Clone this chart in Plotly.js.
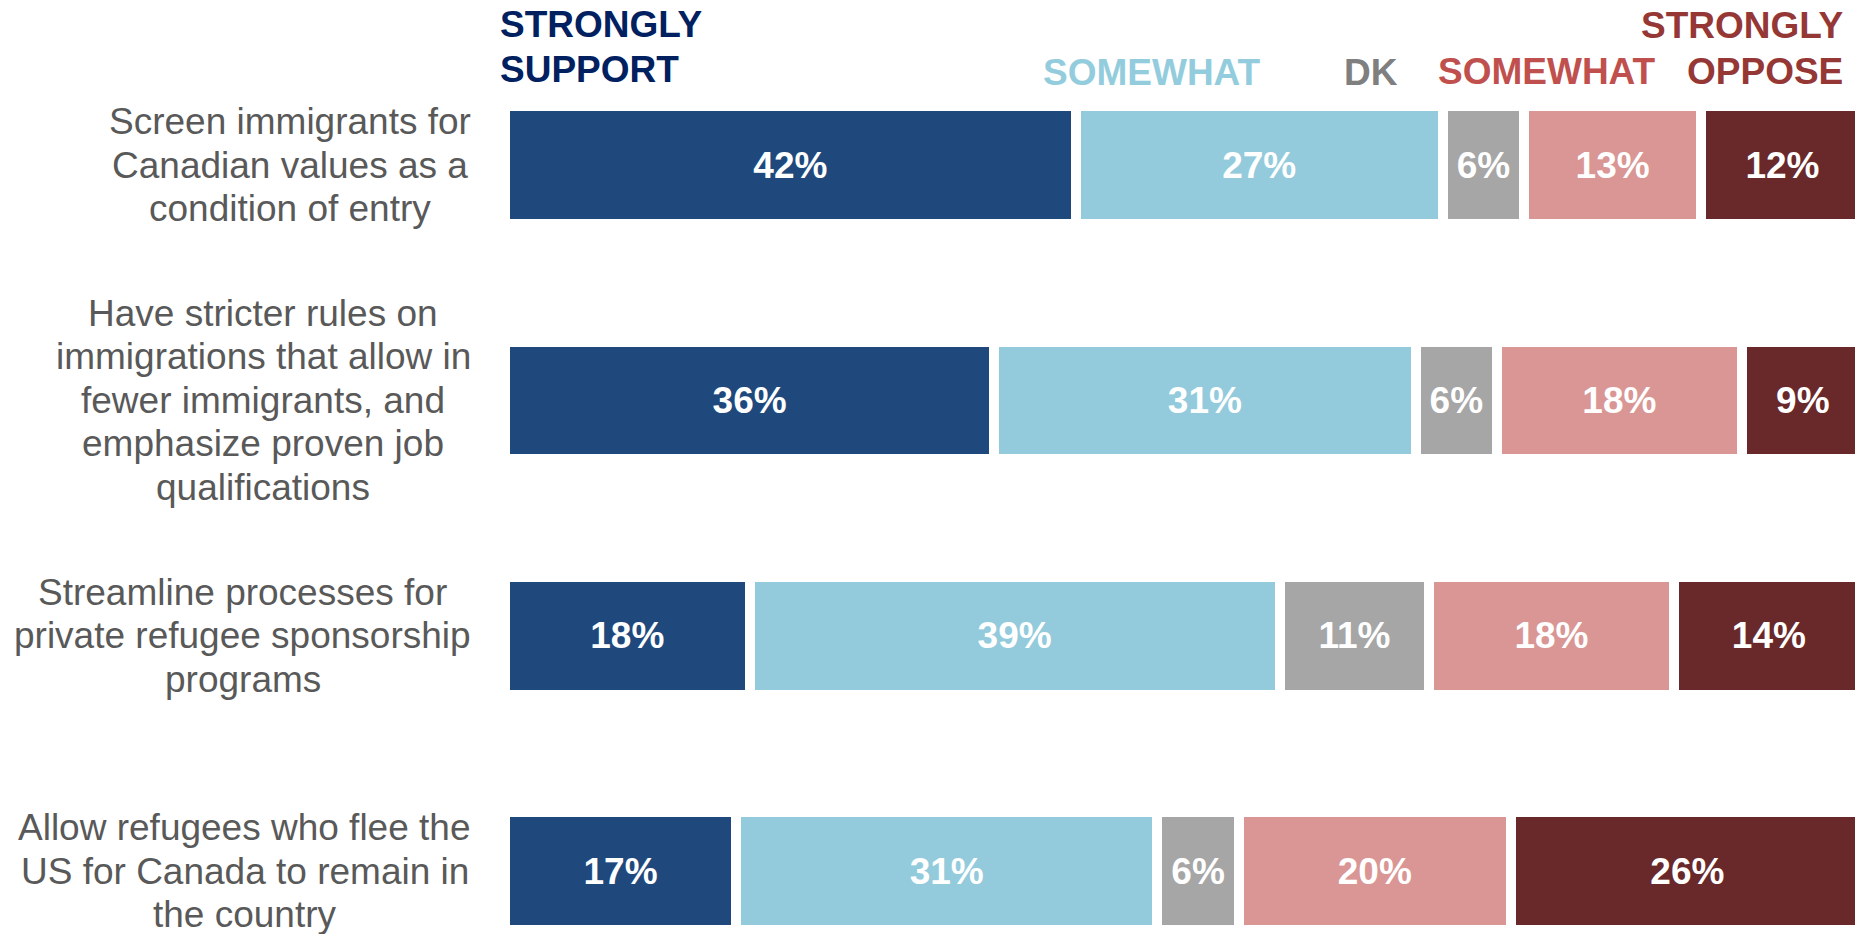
<!DOCTYPE html>
<html>
<head>
<meta charset="utf-8">
<script src="https://cdn.plot.ly/plotly-3.0.1.min.js"></script>
<style>
  html, body { margin: 0; padding: 0; background: #ffffff; }
  #chart { width: 1855px; height: 934px; }
</style>
</head>
<body>
<div id="chart"></div>
<script>
// ---------- DATA ----------
const categories = [
  "Screen immigrants for<br>Canadian values as a<br>condition of entry",
  "Have stricter rules on<br>immigrations that allow in<br>fewer immigrants, and<br>emphasize proven job<br>qualifications",
  "Streamline processes for<br>private refugee sponsorship<br>programs",
  "Allow refugees who flee the<br>US for Canada to remain in<br>the country"
];
const stronglySupport = [42, 36, 18, 17];
const somewhatSupport = [27, 31, 39, 31];
const dontKnow        = [6, 6, 11, 6];
const somewhatOppose  = [13, 18, 18, 20];
const stronglyOppose  = [12, 9, 14, 26];
const seriesNames = ["Strongly support", "Somewhat support", "DK", "Somewhat oppose", "Strongly oppose"];

// ---------- STYLE ----------
const FONT = "Liberation Sans, Arial, sans-serif";
const W = 1855, H = 934;
const M_LEFT = 505;
const PLOT_W = W - M_LEFT;
const barColors = ["#1f497d", "#93cbdc", "#a6a6a6", "#d99694", "#69282a"];
const seriesData = [stronglySupport, somewhatSupport, dontKnow, somewhatOppose, stronglyOppose];

const traces = seriesData.map((vals, i) => ({
  type: "bar",
  orientation: "h",
  name: seriesNames[i],
  y: categories,
  x: vals,
  marker: { color: barColors[i], line: { color: "#ffffff", width: 10 } },
  texttemplate: "%{x}%",
  textposition: "inside",
  insidetextanchor: "middle",
  textangle: 0,
  textfont: { family: FONT, size: 37, color: "#ffffff", weight: "bold" },
  hoverinfo: "none"
}));

// pixel -> paper helpers for header text
const px = (x) => (x - M_LEFT) / PLOT_W;
const py = (y) => 1 - y / H;

const headers = [
  { t: "STRONGLY", x: 498, y: 24.5, c: "#002060", a: "left" },
  { t: "SUPPORT",  x: 498, y: 69.5, c: "#002060", a: "left" },
  { t: "SOMEWHAT", x: 1041, y: 72, c: "#93cddd", a: "left" },
  { t: "DK",       x: 1342, y: 72, c: "#7f7f7f", a: "left" },
  { t: "SOMEWHAT", x: 1436, y: 71.5, c: "#c0504d", a: "left" },
  { t: "STRONGLY", x: 1845, y: 26, c: "#953735", a: "right" },
  { t: "OPPOSE",   x: 1845, y: 71.5, c: "#953735", a: "right" }
];

const annotations = headers.map(h => ({
  text: h.t,
  xref: "paper", yref: "paper",
  x: px(h.x), y: py(h.y),
  xanchor: h.a, yanchor: "middle",
  showarrow: false,
  font: { family: FONT, size: 37, color: h.c, weight: "bold" }
}));

// Category labels: centered lines, block right edge at x=471px
const canvas = document.createElement("canvas");
const ctx = canvas.getContext("2d");
ctx.font = "37px 'Liberation Sans'";
const LABEL_RIGHT = 471;
const LINE_PX = 43.5;
const ROW_PX = 235.4;
categories.forEach((cat, idx) => {
  const lines = cat.split("<br>");
  const maxW = Math.max(...lines.map(l => ctx.measureText(l).width));
  const xc = LABEL_RIGHT - maxW / 2;
  lines.forEach((ln, i) => {
    annotations.push({
      text: ln,
      xref: "x", yref: "y",
      x: 0, y: idx + (i - (lines.length - 1) / 2) * LINE_PX / ROW_PX,
      xshift: xc - M_LEFT,
      xanchor: "center", yanchor: "middle",
      showarrow: false,
      font: { family: FONT, size: 37, color: "#595959" }
    });
  });
});

const layout = {
  width: W, height: H,
  margin: { l: M_LEFT, r: 0, t: 0, b: 0, pad: 0 },
  paper_bgcolor: "#ffffff",
  plot_bgcolor: "#ffffff",
  barmode: "stack",
  bargap: 0.5,
  showlegend: false,
  xaxis: {
    range: [0, PLOT_W / 13.59],
    showgrid: false, zeroline: false, showticklabels: false, showline: false,
    fixedrange: true
  },
  yaxis: {
    type: "category",
    categoryorder: "array",
    categoryarray: categories,
    range: [3.267, -0.701],
    autorange: false,
    showgrid: false, zeroline: false, showticklabels: false, showline: false,
    fixedrange: true
  },
  annotations: annotations,
  font: { family: FONT }
};

Plotly.newPlot("chart", traces, layout, { staticPlot: true, displayModeBar: false });
</script>
</body>
</html>
